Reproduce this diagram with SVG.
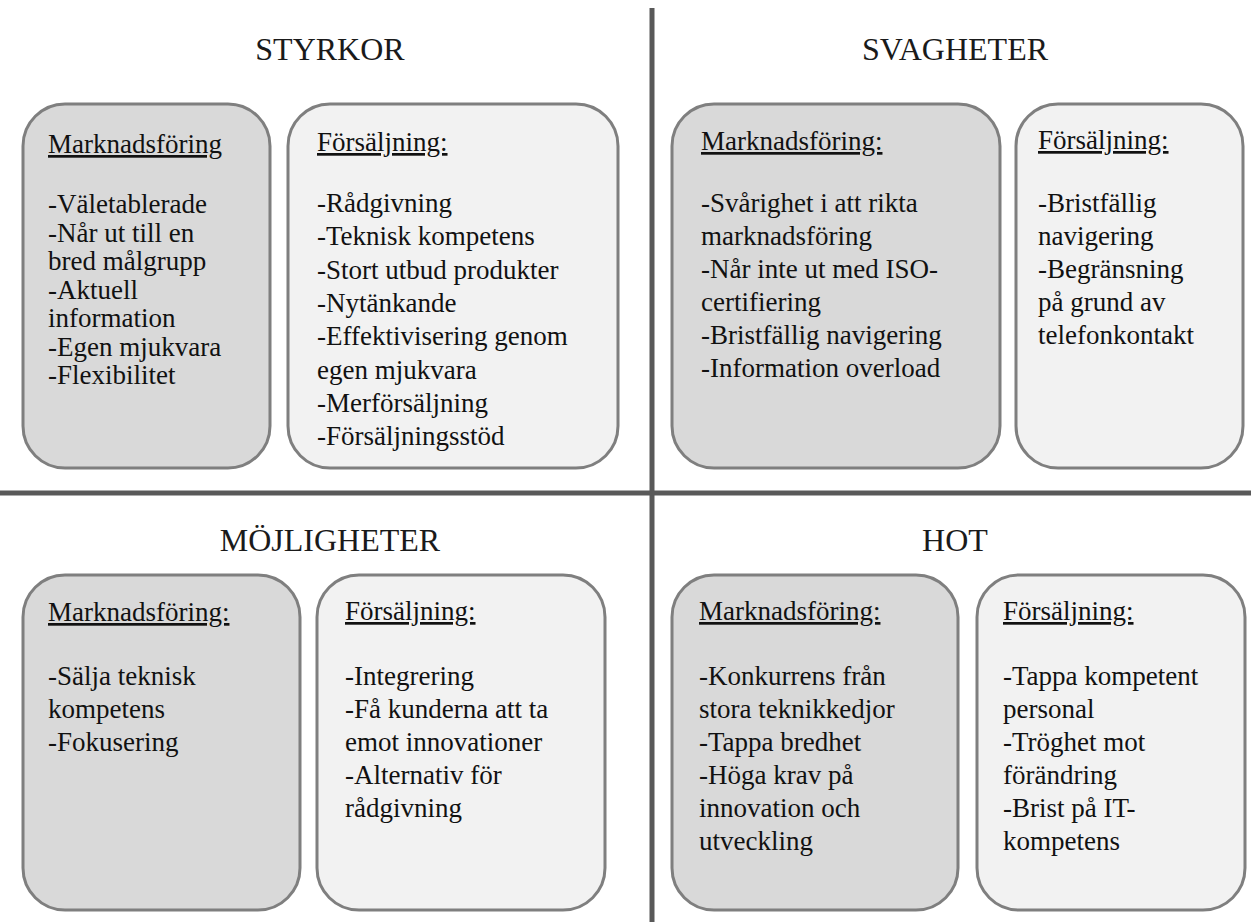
<svg xmlns="http://www.w3.org/2000/svg" width="1251" height="922" viewBox="0 0 1251 922">
<style>
.bg{fill:#ffffff}
.dark{fill:#d9d9d9;stroke:#7f7f7f;stroke-width:3}
.light{fill:#f2f2f2;stroke:#7f7f7f;stroke-width:3}
.div{stroke:#595959;stroke-width:5;fill:none}
.title{font-family:"Liberation Serif","Times New Roman",serif;font-size:32px;fill:#1a1a1a;text-anchor:middle}
.t{font-family:"Liberation Serif","Times New Roman",serif;font-size:27px;fill:#111111}
.h{text-decoration:underline}
</style>
<rect class="bg" x="0" y="0" width="1251" height="922"/>
<g id="connectors">
<line class="div" x1="652" y1="8" x2="652" y2="922"/>
<line class="div" x1="0" y1="493" x2="1251" y2="493"/>
</g>
<g id="titles">
<text class="title" x="330" y="60">STYRKOR</text>
<text class="title" x="955" y="60">SVAGHETER</text>
<text class="title" x="330" y="551">MÖJLIGHETER</text>
<text class="title" x="955" y="551">HOT</text>
</g>
<g id="styrkor-marknad">
<rect class="dark" x="23" y="104" width="247" height="364" rx="42"/>
<text class="t"><tspan class="h" x="48" y="153">Marknadsföring</tspan><tspan x="48" y="213">-Väletablerade</tspan><tspan x="48" y="241.5">-Når ut till en</tspan><tspan x="48" y="270">bred målgrupp</tspan><tspan x="48" y="298.5">-Aktuell</tspan><tspan x="48" y="327">information</tspan><tspan x="48" y="355.5">-Egen mjukvara</tspan><tspan x="48" y="384">-Flexibilitet</tspan></text>
</g>
<g id="styrkor-forsaljning">
<rect class="light" x="288" y="104" width="330" height="364" rx="42"/>
<text class="t"><tspan class="h" x="317" y="151">Försäljning:</tspan><tspan x="317" y="212">-Rådgivning</tspan><tspan x="317" y="245">-Teknisk kompetens</tspan><tspan x="317" y="278.5">-Stort utbud produkter</tspan><tspan x="317" y="312">-Nytänkande</tspan><tspan x="317" y="345">-Effektivisering genom</tspan><tspan x="317" y="378.5">egen mjukvara</tspan><tspan x="317" y="412">-Merförsäljning</tspan><tspan x="317" y="445">-Försäljningsstöd</tspan></text>
</g>
<g id="svagheter-marknad">
<rect class="dark" x="672" y="104" width="328" height="364" rx="42"/>
<text class="t"><tspan class="h" x="701" y="150">Marknadsföring:</tspan><tspan x="701" y="212">-Svårighet i att rikta</tspan><tspan x="701" y="245">marknadsföring</tspan><tspan x="701" y="278">-Når inte ut med ISO-</tspan><tspan x="701" y="311">certifiering</tspan><tspan x="701" y="344">-Bristfällig navigering</tspan><tspan x="701" y="377">-Information overload</tspan></text>
</g>
<g id="svagheter-forsaljning">
<rect class="light" x="1016" y="104" width="227" height="364" rx="42"/>
<text class="t"><tspan class="h" x="1038" y="149">Försäljning:</tspan><tspan x="1038" y="212">-Bristfällig</tspan><tspan x="1038" y="245">navigering</tspan><tspan x="1038" y="278">-Begränsning</tspan><tspan x="1038" y="311">på grund av</tspan><tspan x="1038" y="344">telefonkontakt</tspan></text>
</g>
<g id="mojligheter-marknad">
<rect class="dark" x="23" y="575" width="277" height="335" rx="42"/>
<text class="t"><tspan class="h" x="48" y="621">Marknadsföring:</tspan><tspan x="48" y="685">-Sälja teknisk</tspan><tspan x="48" y="718">kompetens</tspan><tspan x="48" y="751">-Fokusering</tspan></text>
</g>
<g id="mojligheter-forsaljning">
<rect class="light" x="317" y="575" width="288" height="335" rx="42"/>
<text class="t"><tspan class="h" x="345" y="620">Försäljning:</tspan><tspan x="345" y="685">-Integrering</tspan><tspan x="345" y="718">-Få kunderna att ta</tspan><tspan x="345" y="751">emot innovationer</tspan><tspan x="345" y="784">-Alternativ för</tspan><tspan x="345" y="817">rådgivning</tspan></text>
</g>
<g id="hot-marknad">
<rect class="dark" x="672" y="575" width="286" height="335" rx="42"/>
<text class="t"><tspan class="h" x="699" y="620">Marknadsföring:</tspan><tspan x="699" y="685">-Konkurrens från</tspan><tspan x="699" y="718">stora teknikkedjor</tspan><tspan x="699" y="751">-Tappa bredhet</tspan><tspan x="699" y="784">-Höga krav på</tspan><tspan x="699" y="817">innovation och</tspan><tspan x="699" y="850">utveckling</tspan></text>
</g>
<g id="hot-forsaljning">
<rect class="light" x="977" y="575" width="268" height="335" rx="42"/>
<text class="t"><tspan class="h" x="1003" y="620">Försäljning:</tspan><tspan x="1003" y="685">-Tappa kompetent</tspan><tspan x="1003" y="718">personal</tspan><tspan x="1003" y="751">-Tröghet mot</tspan><tspan x="1003" y="784">förändring</tspan><tspan x="1003" y="817">-Brist på IT-</tspan><tspan x="1003" y="850">kompetens</tspan></text>
</g>
</svg>
